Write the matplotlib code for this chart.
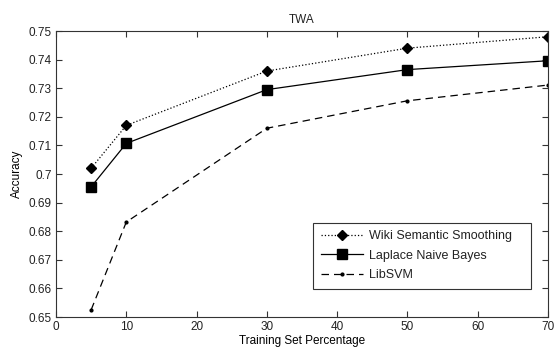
import matplotlib
matplotlib.use("Agg")
import matplotlib.pyplot as plt

x = [5, 10, 30, 50, 70]
wiki = [0.702, 0.717, 0.736, 0.744, 0.748]
laplace = [0.6955, 0.7107, 0.7295, 0.7365, 0.7396]
libsvm = [0.6525, 0.6832, 0.716, 0.7256, 0.7311]
labels = ["Wiki Semantic Smoothing", "Laplace Naive Bayes", "LibSVM"]
xticks = [0, 10, 20, 30, 40, 50, 60, 70]
yticks = [0.65, 0.66, 0.67, 0.68, 0.69, 0.7, 0.71, 0.72, 0.73, 0.74, 0.75]
ytlabels = ["0.65", "0.66", "0.67", "0.68", "0.69", "0.7", "0.71", "0.72", "0.73", "0.74", "0.75"]

plt.rcParams['font.family'] = ['Liberation Sans', 'DejaVu Sans']
plt.rcParams['text.color'] = '#222222'
plt.rcParams['xtick.color'] = '#333333'
plt.rcParams['ytick.color'] = '#333333'
fig = plt.figure(figsize=(5.56, 3.49), dpi=100)
ax = fig.add_axes([56/556, 1-317/349, (548-56)/556, (317-31)/349])

ax.plot(x, wiki, color='black', linestyle=':', linewidth=0.9, marker='D', markersize=5, label=labels[0])
ax.plot(x, laplace, color='black', linestyle='-', linewidth=0.9, marker='s', markersize=6.5, label=labels[1])
ax.plot(x, libsvm, color='black', linestyle=(0, (6, 4)), linewidth=0.9, marker='.', markersize=4, label=labels[2])

ax.set_xlim(0, 70)
ax.set_ylim(0.65, 0.75)
ax.set_xticks(xticks)
ax.set_yticks(yticks)
ax.set_yticklabels(ytlabels)
ax.tick_params(direction='in', length=4, labelsize=8.5, top=True, right=True, width=0.8, pad=3,
               labelcolor='#222222')
for s in ax.spines.values():
    s.set_linewidth(0.8)
    s.set_color('#333333')
ax.set_title("TWA", fontsize=8.5, pad=6)
ax.set_xlabel("Training Set Percentage", fontsize=8.5, labelpad=1)
ax.set_ylabel("Accuracy", fontsize=8.5, labelpad=4)

leg = ax.legend(loc='lower left', bbox_to_anchor=(313/556, 1-289/349, 218/556, 66/349),
                bbox_transform=fig.transFigure, mode='expand',
                fontsize=9, fancybox=False, edgecolor='#333333', framealpha=1, handlelength=3.4,
                handletextpad=0.45, borderpad=0.6, labelspacing=0.62, borderaxespad=0)
leg.get_frame().set_linewidth(0.8)

fig.savefig("out.png", dpi=100)
